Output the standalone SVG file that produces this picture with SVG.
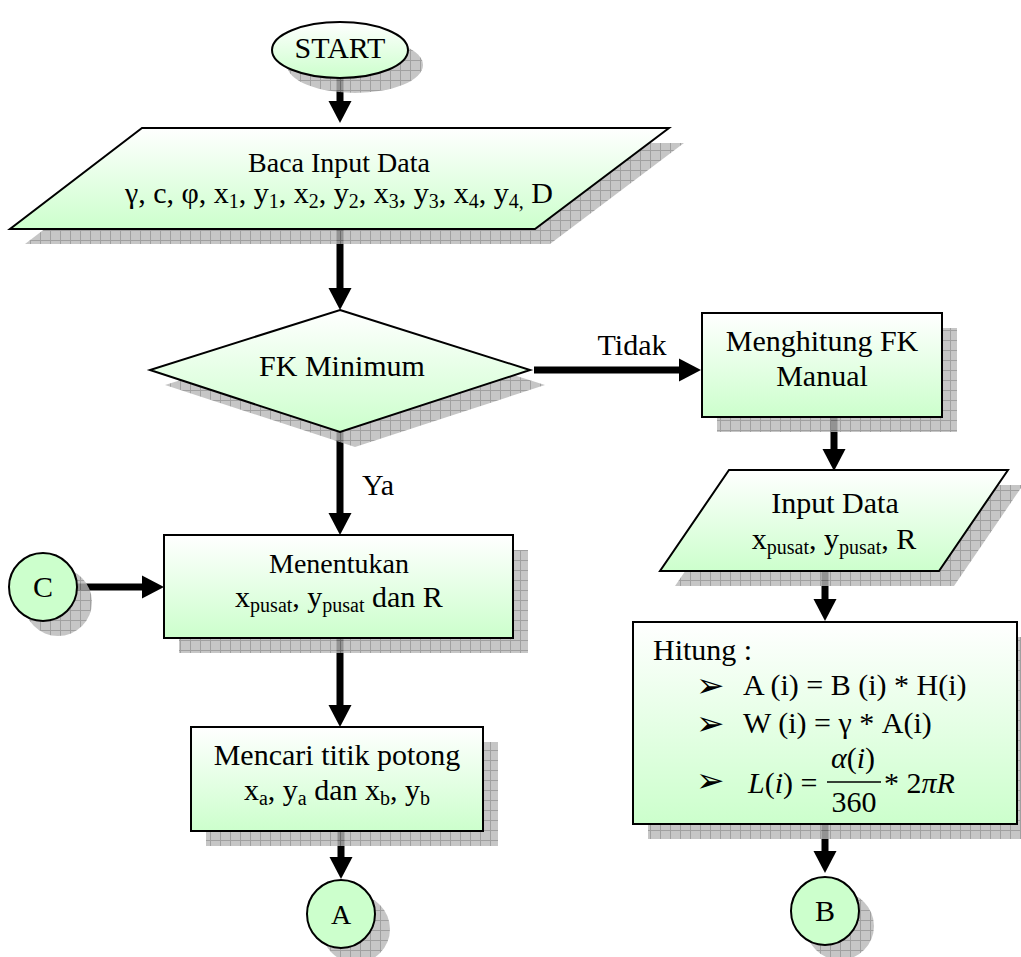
<svg xmlns="http://www.w3.org/2000/svg" width="1021" height="957" viewBox="0 0 1021 957" font-family="'Liberation Serif', 'Times New Roman', serif">
<style>
svg text{font-family:"Liberation Serif","Times New Roman",serif;fill:#000}
.t30{font-size:30px}
.t28{font-size:28px}
.mid{text-anchor:middle}
.shape{stroke:#000;stroke-width:2;fill:url(#grad)}
.circ{stroke:#000;stroke-width:2;fill:#ccffcc}
.shadow{fill:url(#grid);opacity:0.8}
.conn{stroke:#000;stroke-width:7;fill:none;marker-end:url(#head)}
svg text.bul{font-family:"DejaVu Sans",sans-serif;font-size:34px}
</style>
<defs>
<linearGradient id="grad" x1="0" y1="0" x2="0" y2="1">
<stop offset="0" stop-color="#ffffff"/>
<stop offset="1" stop-color="#ccffcc"/>
</linearGradient>
<pattern id="grid" width="10" height="10" patternUnits="userSpaceOnUse">
<rect width="10" height="10" fill="#b8b8b8"/>
<path d="M0,0.5H10M0.5,0V10" stroke="#888888" stroke-width="1"/>
</pattern>
<marker id="head" markerUnits="userSpaceOnUse" markerWidth="23" markerHeight="24" refX="0" refY="11.5" orient="auto" viewBox="0 0 23 23">
<path d="M0,0L22,11.5L0,23z" fill="#000"/>
</marker>
</defs>

<g id="connectors">
<line class="conn" x1="340" y1="78" x2="340" y2="101"/>
<line class="conn" x1="340" y1="229" x2="340" y2="288"/>
<line class="conn" x1="534" y1="370" x2="679" y2="370"/>
<line class="conn" x1="340" y1="432" x2="340" y2="513"/>
<line class="conn" x1="77" y1="587" x2="142" y2="587"/>
<line class="conn" x1="340" y1="638" x2="340" y2="705"/>
<line class="conn" x1="341" y1="831" x2="341" y2="857"/>
<line class="conn" x1="834" y1="417" x2="834" y2="449"/>
<line class="conn" x1="825" y1="571" x2="825" y2="599"/>
<line class="conn" x1="825" y1="824" x2="825" y2="851"/>
<text class="t30 mid" x="632" y="355">Tidak</text>
<text class="t30" x="362" y="495">Ya</text>
</g>

<g id="start">
<ellipse class="shadow" cx="355" cy="65" rx="68" ry="28"/>
<ellipse class="circ" cx="340" cy="50" rx="68" ry="28" style="fill:url(#grad)"/>
<text class="t30 mid" x="340" y="58">START</text>
</g>

<g id="baca-input">
<polygon class="shadow" points="157,143 684,143 550,244 25,244"/>
<polygon class="shape" points="142,128 669,128 535,229 10,229"/>
<text class="t28 mid" x="339" y="172">Baca Input Data</text>
<text class="t30 mid" x="339" y="203">γ, c, φ, x<tspan font-size="20" dy="5">1</tspan><tspan dy="-5">, y</tspan><tspan font-size="20" dy="5">1</tspan><tspan dy="-5">, x</tspan><tspan font-size="20" dy="5">2</tspan><tspan dy="-5">, y</tspan><tspan font-size="20" dy="5">2</tspan><tspan dy="-5">, x</tspan><tspan font-size="20" dy="5">3</tspan><tspan dy="-5">, y</tspan><tspan font-size="20" dy="5">3</tspan><tspan dy="-5">, x</tspan><tspan font-size="20" dy="5">4</tspan><tspan dy="-5">, y</tspan><tspan font-size="20" dy="5">4,</tspan><tspan dy="-5"> D</tspan></text>
</g>

<g id="fk-minimum">
<polygon class="shadow" points="355,325 545,385 355,447 165,385"/>
<polygon class="shape" points="340,310 530,370 340,432 150,370"/>
<text class="t30 mid" x="342" y="376">FK Minimum</text>
</g>

<g id="menghitung">
<rect class="shadow" x="717" y="328" width="240" height="104"/>
<rect class="shape" x="702" y="313" width="240" height="104"/>
<text class="t30 mid" x="822" y="351">Menghitung FK</text>
<text class="t30 mid" x="822" y="386">Manual</text>
</g>

<g id="input-data">
<polygon class="shadow" points="744,485 1023,485 954,586 675,586"/>
<polygon class="shape" points="729,470 1008,470 939,571 660,571"/>
<text class="t30 mid" x="835" y="513">Input Data</text>
<text class="t30 mid" x="834" y="549">x<tspan font-size="20" dy="5">pusat</tspan><tspan dy="-5">, y</tspan><tspan font-size="20" dy="5">pusat</tspan><tspan dy="-5">, R</tspan></text>
</g>

<g id="menentukan">
<rect class="shadow" x="179" y="550" width="349" height="103"/>
<rect class="shape" x="164" y="535" width="349" height="103"/>
<text class="t28 mid" x="339" y="573">Menentukan</text>
<text class="t30 mid" x="339" y="607">x<tspan font-size="20" dy="5">pusat</tspan><tspan dy="-5">, y</tspan><tspan font-size="20" dy="5">pusat</tspan><tspan dy="-5"> dan R</tspan></text>
</g>

<g id="c">
<circle class="shadow" cx="58" cy="602" r="34"/>
<circle class="circ" cx="43" cy="587" r="34"/>
<text class="t30 mid" x="43" y="597">C</text>
</g>

<g id="mencari">
<rect class="shadow" x="206" y="742" width="292" height="104"/>
<rect class="shape" x="191" y="727" width="292" height="104"/>
<text class="t30 mid" x="337" y="765">Mencari titik potong</text>
<text class="t30 mid" x="337" y="800">x<tspan font-size="20" dy="5">a</tspan><tspan dy="-5">, y</tspan><tspan font-size="20" dy="5">a</tspan><tspan dy="-5"> dan x</tspan><tspan font-size="20" dy="5">b</tspan><tspan dy="-5">, y</tspan><tspan font-size="20" dy="5">b</tspan></text>
</g>

<g id="a">
<circle class="shadow" cx="356" cy="929" r="34"/>
<circle class="circ" cx="341" cy="914" r="34"/>
<text class="t28 mid" x="341" y="924">A</text>
</g>

<g id="hitung">
<rect class="shadow" x="648" y="637" width="384" height="202"/>
<rect class="shape" x="633" y="622" width="384" height="202"/>
<text class="t30" x="653" y="660">Hitung :</text>
<text class="bul" x="696" y="697">➢</text>
<text class="t30" x="743" y="695">A (i) = B (i) * H(i)</text>
<text class="bul" x="696" y="735">➢</text>
<text class="t30" x="743" y="733">W (i) = γ * A(i)</text>
<text class="bul" x="696" y="792">➢</text>
<text class="t30" x="748" y="793"><tspan font-style="italic">L</tspan>(<tspan font-style="italic">i</tspan>) =</text>
<text class="t30 mid" x="853" y="768"><tspan font-style="italic">α</tspan>(<tspan font-style="italic">i</tspan>)</text>
<line x1="827" y1="782" x2="881" y2="782" stroke="#000" stroke-width="1.5"/>
<text class="t30 mid" x="854" y="812">360</text>
<text class="t30" x="884" y="793">* 2<tspan font-style="italic">πR</tspan></text>
</g>

<g id="b">
<circle class="shadow" cx="840" cy="926" r="34"/>
<circle class="circ" cx="825" cy="911" r="34"/>
<text class="t30 mid" x="825" y="921">B</text>
</g>
</svg>
